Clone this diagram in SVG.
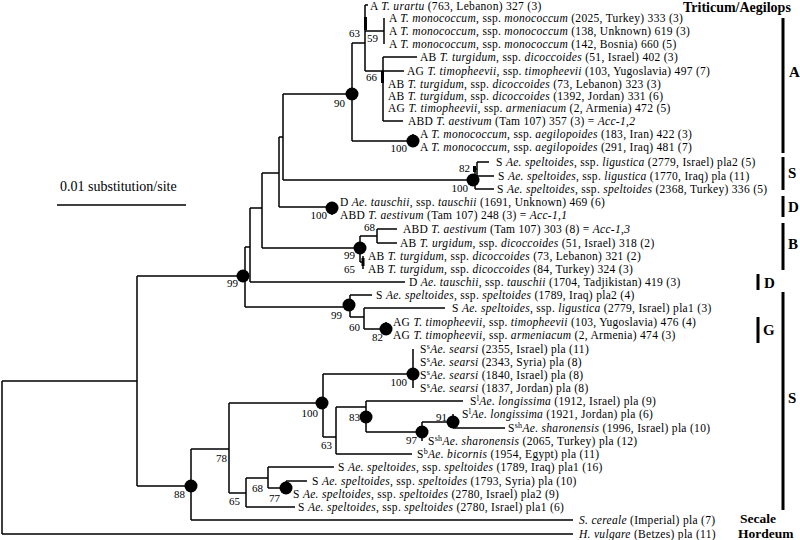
<svg xmlns="http://www.w3.org/2000/svg" width="800" height="540" viewBox="0 0 800 540">
<style>
.br{fill:none;stroke:#000;stroke-width:1.5}
.lf{font-family:"Liberation Serif","Times New Roman",serif;font-size:11.5px;letter-spacing:0.3px;fill:#000}
.i{font-style:italic}
.bs{font-family:"Liberation Serif","Times New Roman",serif;font-size:11px;fill:#000;text-anchor:end}
.dot{fill:#000}
.grp{font-family:"Liberation Serif","Times New Roman",serif;font-size:14px;font-weight:bold;fill:#000}
.gn{font-family:"Liberation Serif","Times New Roman",serif;font-size:13.5px;font-weight:bold;fill:#000}
.gl{font-family:"Liberation Serif","Times New Roman",serif;font-size:15px;font-weight:bold;fill:#000}
.bar{fill:#000}
.sc{font-family:"Liberation Serif","Times New Roman",serif;font-size:14px;fill:#000}
</style>
<rect width="800" height="540" fill="#fff"/>
<g id="connectors" class="br">
<path d="M2,381V534M2,381H137M2,534H573"/>
<path d="M137,276V486M137,276H243M137,486H191"/>
<path d="M245,247V307M245,247H250M245,307H349"/>
<path d="M250,208V282M250,208H262M250,282H405"/>
<path d="M262,173V248M262,173H279M262,248H360"/>
<path d="M279,137V207M279,137H283M279,207H332"/>
<path d="M283,94V180M283,94H352M283,180H473"/>
<path d="M352,43V141M352,43H365M352,141H413"/>
<path d="M365,5V71M365,5H368M365,31H384M365,71H383"/>
<path d="M384,18V44"/>
<path d="M383,57V121M383,57H417M383,71H404M383,121H403"/>
<path d="M413,134V147"/>
<path d="M475,169V189M475,169H477M477,162V176M477,162H489M477,176H494M475,189H494"/>
<path d="M332,202V215"/>
<path d="M360,236V262M360,236H377M377,229V243M377,229H397M377,243H397M360,262H363M363,256V269"/>
<path d="M350,295V317M350,295H372M350,317H364M364,308V329M364,308H445M364,329H386M386,322V335"/>
<path d="M191,449V520M191,449H229M191,520H573"/>
<path d="M229,403V493M229,403H322M229,493H246"/>
<path d="M323,374V437M323,374H413M413,349V388M323,437H336"/>
<path d="M336,407V454M336,407H366M336,454H412"/>
<path d="M366,401V432M366,401H463M366,432H422"/>
<path d="M422,422V441M422,422H453M453,414V428M453,428H505"/>
<path d="M246,478V507M246,478H268M246,507H295"/>
<path d="M268,467V488M268,467H334M268,488H286M286,481V494M286,481H307"/>
<rect class="bar" x="364" y="17" width="3" height="13" stroke="none"/>
<rect class="bar" x="381" y="71" width="3" height="12" stroke="none"/>
<rect class="bar" x="361.5" y="258" width="3" height="8" stroke="none"/>
<rect class="bar" x="473" y="166" width="3" height="6" stroke="none"/>
</g>
<g id="internal-nodes">
<g id="n90"><circle class="dot" cx="352" cy="94" r="6.5"/><text class="bs" x="345" y="107">90</text></g>
<g id="n63a"><text class="bs" x="360" y="37">63</text></g>
<g id="n59"><text class="bs" x="378" y="42">59</text></g>
<g id="n66"><text class="bs" x="377" y="81">66</text></g>
<g id="n100aeg"><circle class="dot" cx="413" cy="141" r="6.5"/><text class="bs" x="407" y="152">100</text></g>
<g id="n82s"><text class="bs" x="470" y="172">82</text></g>
<g id="n100s"><circle class="dot" cx="473" cy="180" r="6.5"/><text class="bs" x="468" y="192">100</text></g>
<g id="n100d"><circle class="dot" cx="332" cy="208" r="6.5"/><text class="bs" x="327" y="219">100</text></g>
<g id="n68b"><text class="bs" x="375" y="231">68</text></g>
<g id="n99b"><circle class="dot" cx="360" cy="248" r="6.5"/><text class="bs" x="355" y="259">99</text></g>
<g id="n65b"><text class="bs" x="355" y="273">65</text></g>
<g id="n99main"><circle class="dot" cx="243" cy="276" r="6.5"/><text class="bs" x="238" y="287">99</text></g>
<g id="n99sp"><circle class="dot" cx="349" cy="305" r="6.5"/><text class="bs" x="342" y="319">99</text></g>
<g id="n60"><text class="bs" x="360" y="331">60</text></g>
<g id="n82g"><circle class="dot" cx="386" cy="329" r="6.5"/><text class="bs" x="383" y="341">82</text></g>
<g id="n100sea"><circle class="dot" cx="413" cy="374" r="6.5"/><text class="bs" x="407" y="386">100</text></g>
<g id="n100big"><circle class="dot" cx="322" cy="403" r="6.5"/><text class="bs" x="318" y="417">100</text></g>
<g id="n83"><circle class="dot" cx="366" cy="417" r="6.5"/><text class="bs" x="360" y="421">83</text></g>
<g id="n63b"><text class="bs" x="332" y="449">63</text></g>
<g id="n97"><circle class="dot" cx="422" cy="432" r="6.5"/><text class="bs" x="417" y="444">97</text></g>
<g id="n91"><circle class="dot" cx="453" cy="422" r="6.5"/><text class="bs" x="447" y="421">91</text></g>
<g id="n78"><text class="bs" x="227" y="462">78</text></g>
<g id="n88"><circle class="dot" cx="191" cy="486" r="6.5"/><text class="bs" x="185" y="498">88</text></g>
<g id="n65c"><text class="bs" x="240" y="505">65</text></g>
<g id="n68c"><text class="bs" x="263" y="492">68</text></g>
<g id="n77"><circle class="dot" cx="286" cy="488" r="6.5"/><text class="bs" x="280" y="502">77</text></g>
</g>
<g id="leaves" class="lf">
<g id="l1"><text x="370" y="10">A <tspan class="i">T. urartu</tspan> (763, Lebanon) 327 (3)</text></g>
<g id="l2"><text x="389" y="22">A <tspan class="i">T. monococcum</tspan>, ssp. <tspan class="i">monococcum</tspan> (2025, Turkey) 333 (3)</text></g>
<g id="l3"><text x="389" y="35">A <tspan class="i">T. monococcum</tspan>, ssp. <tspan class="i">monococcum</tspan> (138, Unknown) 619 (3)</text></g>
<g id="l4"><text x="389" y="48">A <tspan class="i">T. monococcum</tspan>, ssp. <tspan class="i">monococcum</tspan> (142, Bosnia) 660 (5)</text></g>
<g id="l5"><text x="420" y="61">AB <tspan class="i">T. turgidum</tspan>, ssp. <tspan class="i">dicoccoides</tspan> (51, Israel) 402 (3)</text></g>
<g id="l6"><text x="407" y="75">AG <tspan class="i">T. timopheevii</tspan>, ssp. <tspan class="i">timopheevii</tspan> (103, Yugoslavia) 497 (7)</text></g>
<g id="l7"><text x="388" y="88">AB <tspan class="i">T. turgidum</tspan>, ssp. <tspan class="i">dicoccoides</tspan> (73, Lebanon) 323 (3)</text></g>
<g id="l8"><text x="388" y="100">AB <tspan class="i">T. turgidum</tspan>, ssp. <tspan class="i">dicoccoides</tspan> (1392, Jordan) 331 (6)</text></g>
<g id="l9"><text x="388" y="112">AG <tspan class="i">T. timopheevii</tspan>, ssp. <tspan class="i">armeniacum</tspan> (2, Armenia) 472 (5)</text></g>
<g id="l10"><text x="408" y="125">ABD <tspan class="i">T. aestivum</tspan> (Tam 107) 357 (3) = <tspan class="i">Acc-1,2</tspan></text></g>
<g id="l11"><text x="420" y="138">A <tspan class="i">T. monococcum</tspan>, ssp. <tspan class="i">aegilopoides</tspan> (183, Iran) 422 (3)</text></g>
<g id="l12"><text x="420" y="151">A <tspan class="i">T. monococcum</tspan>, ssp. <tspan class="i">aegilopoides</tspan> (291, Iraq) 481 (7)</text></g>
<g id="l13"><text x="496" y="166">S <tspan class="i">Ae. speltoides</tspan>, ssp. <tspan class="i">ligustica</tspan> (2779, Israel) pla2 (5)</text></g>
<g id="l14"><text x="498" y="180">S <tspan class="i">Ae. speltoides</tspan>, ssp. <tspan class="i">ligustica</tspan> (1770, Iraq) pla (11)</text></g>
<g id="l15"><text x="497" y="193">S <tspan class="i">Ae. speltoides</tspan>, ssp. <tspan class="i">speltoides</tspan> (2368, Turkey) 336 (5)</text></g>
<g id="l16"><text x="340" y="206">D <tspan class="i">Ae. tauschii</tspan>, ssp. <tspan class="i">tauschii</tspan> (1691, Unknown) 469 (6)</text></g>
<g id="l17"><text x="340" y="219">ABD <tspan class="i">T. aestivum</tspan> (Tam 107) 248 (3) = <tspan class="i">Acc-1,1</tspan></text></g>
<g id="l18"><text x="403" y="233">ABD <tspan class="i">T. aestivum</tspan> (Tam 107) 303 (8) = <tspan class="i">Acc-1,3</tspan></text></g>
<g id="l19"><text x="400" y="247">AB <tspan class="i">T. urgidum</tspan>, ssp. <tspan class="i">dicoccoides</tspan> (51, Israel) 318 (2)</text></g>
<g id="l20"><text x="368" y="260">AB <tspan class="i">T. turgidum</tspan>, ssp. <tspan class="i">dicoccoides</tspan> (73, Lebanon) 321 (2)</text></g>
<g id="l21"><text x="368" y="273">AB <tspan class="i">T. turgidum</tspan>, ssp. <tspan class="i">dicoccoides</tspan> (84, Turkey) 324 (3)</text></g>
<g id="l22"><text x="409" y="286">D <tspan class="i">Ae. tauschii</tspan>, ssp. <tspan class="i">tauschii</tspan> (1704, Tadjikistan) 419 (3)</text></g>
<g id="l23"><text x="376" y="299">S <tspan class="i">Ae. speltoides</tspan>, ssp. <tspan class="i">speltoides</tspan> (1789, Iraq) pla2 (4)</text></g>
<g id="l24"><text x="452" y="312">S <tspan class="i">Ae. speltoides</tspan>, ssp. <tspan class="i">ligustica</tspan> (2779, Israel) pla1 (3)</text></g>
<g id="l25"><text x="393" y="326">AG <tspan class="i">T. timopheevii</tspan>, ssp. <tspan class="i">timopheevii</tspan> (103, Yugoslavia) 476 (4)</text></g>
<g id="l26"><text x="393" y="339">AG <tspan class="i">T. timopheevii</tspan>, ssp. <tspan class="i">armeniacum</tspan> (2, Armenia) 474 (3)</text></g>
<g id="l27"><text x="420" y="353">S<tspan font-size="8" dy="-4">s</tspan><tspan class="i" dy="4">Ae. searsi</tspan> (2355, Israel) pla (11)</text></g>
<g id="l28"><text x="420" y="366">S<tspan font-size="8" dy="-4">s</tspan><tspan class="i" dy="4">Ae. searsi</tspan> (2343, Syria) pla (8)</text></g>
<g id="l29"><text x="420" y="379">S<tspan font-size="8" dy="-4">s</tspan><tspan class="i" dy="4">Ae. searsi</tspan> (1840, Israel) pla (8)</text></g>
<g id="l30"><text x="420" y="392">S<tspan font-size="8" dy="-4">s</tspan><tspan class="i" dy="4">Ae. searsi</tspan> (1837, Jordan) pla (8)</text></g>
<g id="l31"><text x="470" y="405">S<tspan font-size="8" dy="-4">l</tspan><tspan class="i" dy="4">Ae. longissima</tspan> (1912, Israel) pla (9)</text></g>
<g id="l32"><text x="462" y="418">S<tspan font-size="8" dy="-4">l</tspan><tspan class="i" dy="4">Ae. longissima</tspan> (1921, Jordan) pla (6)</text></g>
<g id="l33"><text x="508" y="432">S<tspan font-size="8" dy="-4">sh</tspan><tspan class="i" dy="4">Ae. sharonensis</tspan> (1996, Israel) pla (10)</text></g>
<g id="l34"><text x="428" y="445">S<tspan font-size="8" dy="-4">sh</tspan><tspan class="i" dy="4">Ae. sharonensis</tspan> (2065, Turkey) pla (12)</text></g>
<g id="l35"><text x="417" y="458">S<tspan font-size="8" dy="-4">b</tspan><tspan class="i" dy="4">Ae. bicornis</tspan> (1954, Egypt) pla (11)</text></g>
<g id="l36"><text x="338" y="471">S <tspan class="i">Ae. speltoides</tspan>, ssp. <tspan class="i">speltoides</tspan> (1789, Iraq) pla1 (16)</text></g>
<g id="l37"><text x="312" y="485">S <tspan class="i">Ae. speltoides</tspan>, ssp. <tspan class="i">speltoides</tspan> (1793, Syria) pla (10)</text></g>
<g id="l38"><text x="293" y="498">S <tspan class="i">Ae. speltoides</tspan>, ssp. <tspan class="i">speltoides</tspan> (2780, Israel) pla2 (9)</text></g>
<g id="l39"><text x="298" y="511">S <tspan class="i">Ae. speltoides</tspan>, ssp. <tspan class="i">speltoides</tspan> (2780, Israel) pla1 (6)</text></g>
<g id="l40"><text x="579" y="524"><tspan class="i">S. cereale</tspan> (Imperial) pla (7)</text></g>
<g id="l41"><text x="579" y="538"><tspan class="i">H. vulgare</tspan> (Betzes) pla (11)</text></g>
</g>
<g id="scale">
<text class="sc" x="60" y="191">0.01 substitution/site</text>
<path class="br" d="M57,205H186"/>
</g>
<g id="groups">
<text class="grp" x="683" y="12">Triticum/Aegilops</text>
<rect class="bar" x="781.5" y="18" width="3" height="135"/>
<text class="gl" x="789" y="77">A</text>
<rect class="bar" x="781.5" y="157" width="3" height="33"/>
<text class="gl" x="788" y="178">S</text>
<rect class="bar" x="781.5" y="196" width="3" height="21"/>
<text class="gl" x="788" y="212">D</text>
<rect class="bar" x="781.5" y="223" width="3" height="47"/>
<text class="gl" x="788" y="249">B</text>
<rect class="bar" x="756.5" y="274" width="3" height="16"/>
<text class="gl" x="764" y="288">D</text>
<rect class="bar" x="781.5" y="292" width="3" height="218"/>
<text class="gl" x="788" y="403">S</text>
<rect class="bar" x="756.5" y="317" width="3" height="26"/>
<text class="gl" x="763" y="335">G</text>
<text class="gn" x="740" y="523">Secale</text>
<text class="gn" x="738" y="538">Hordeum</text>
</g>
</svg>
